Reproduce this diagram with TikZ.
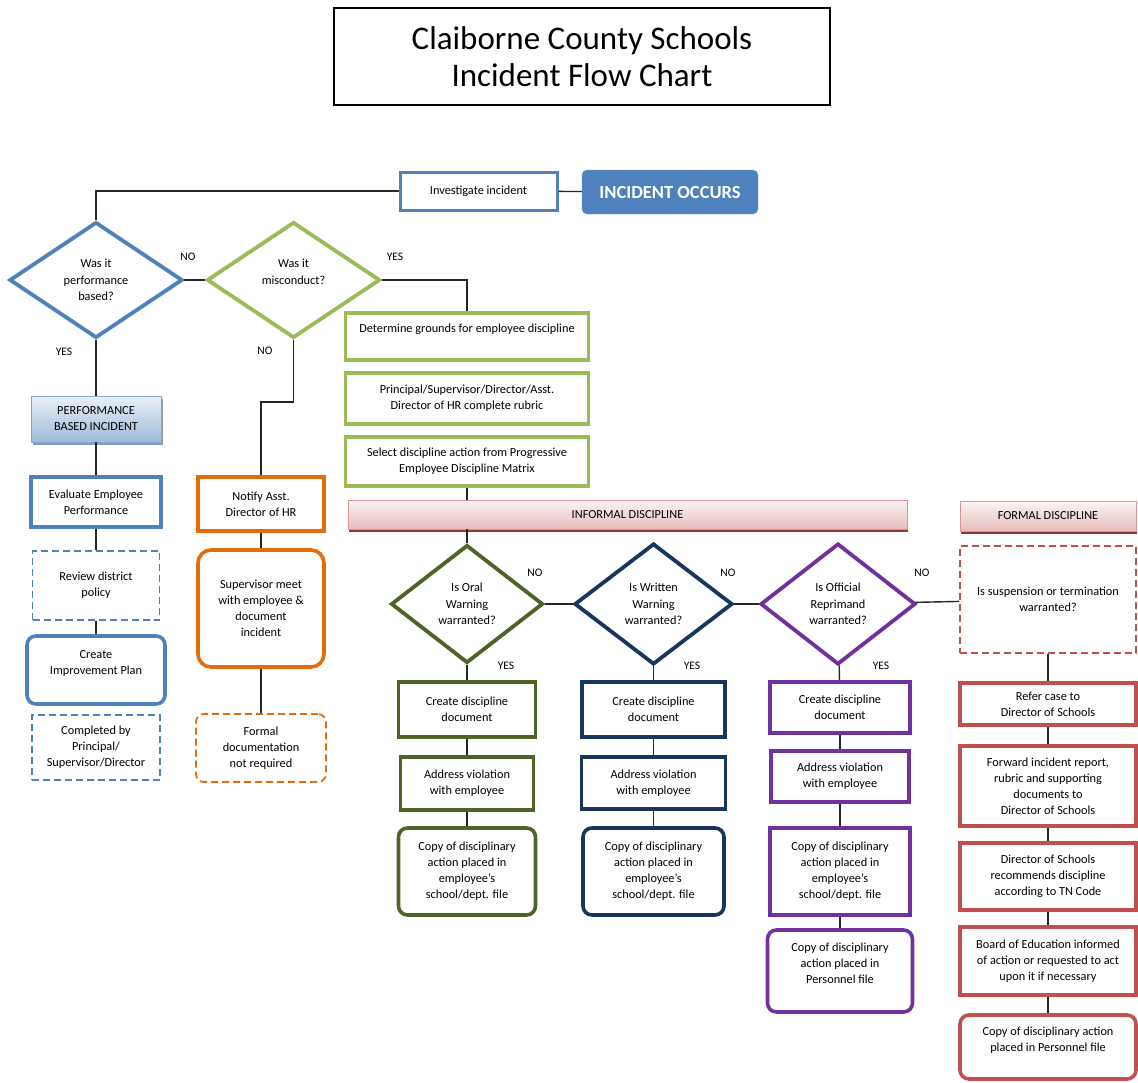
\documentclass[tikz,border=0pt]{standalone}
\usepackage{fontspec}
\setmainfont{Carlito}
\usetikzlibrary{shapes.geometric, shadows}

\definecolor{ccsblue}{HTML}{4F81BD}
\definecolor{ccsgreen}{HTML}{9BBB59}
\definecolor{ccsorange}{HTML}{E46C0A}
\definecolor{ccsolive}{HTML}{4F6228}
\definecolor{ccsnavy}{HTML}{17365D}
\definecolor{ccspurple}{HTML}{7030A0}
\definecolor{ccsred}{HTML}{C0504D}
\definecolor{ccsdarkred}{HTML}{943634}

\tikzset{
    txt/.style={font=\fontsize{12.3}{16}\selectfont, align=center},
    box/.style={txt, draw, rectangle, line width=3.6pt, fill=white, inner sep=2pt},
    rbox/.style={box, rounded corners=9pt},
    dbox/.style={box, line width=1.8pt, dash pattern=on 7pt off 4pt},
    decide/.style={txt, diamond, draw, line width=3.8pt, fill=white, inner sep=0pt,
        font=\fontsize{12.3}{16.5}\selectfont},
    answer/.style={font=\fontsize{11.5}{13}\selectfont},
    bar/.style={txt, draw=ccsred!60, line width=0.8pt, top color=ccsred!6, bottom color=ccsred!38,
        drop shadow={shadow xshift=1pt, shadow yshift=-2.5pt, fill=ccsdarkred, opacity=1}},
    link/.style={draw=black!85, line width=1.4pt}
}

\begin{document}
\begin{tikzpicture}[x=1pt, y=-1pt]

        \useasboundingbox (0,0) rectangle (1138,1082);

        \node[draw, line width=1.2pt, minimum width=496pt, minimum height=97pt,
            align=center, font=\fontsize{33}{37}\selectfont] (title) at (582,56.5)
            {Claiborne County Schools\\Incident Flow Chart};

        \node[box, draw=ccsblue, line width=3pt, minimum width=157pt, minimum height=38pt] (invest) at (478.5,191) {Investigate incident};
        \node[rectangle, rounded corners=5pt, fill=ccsblue, draw=ccsblue!80, text=white,
            font=\bfseries\fontsize{18.5}{20}\selectfont, minimum width=176pt, minimum height=44pt] (occurs) at (670,192) {INCIDENT OCCURS};

        % first questions
        \node[decide, draw=ccsblue, minimum width=173pt, minimum height=116pt] (perfq) at (96,280) {Was it\\performance\\based?};
        \node[decide, draw=ccsgreen, minimum width=173pt, minimum height=116pt] (miscq) at (293.5,280) {Was it\\misconduct?\\\mbox{}};

        \node[answer] (perfno) at (188,257) {NO};
        \node[answer] (miscyes) at (395,257) {YES};
        \node[answer] (perfyes) at (64,352) {YES};
        \node[answer] (miscno) at (265,351) {NO};

        % performance column
        \node[txt, draw=ccsblue!70, line width=0.8pt, top color=ccsblue!12, bottom color=ccsblue!55,
            drop shadow={shadow xshift=2pt, shadow yshift=-2.5pt, fill=ccsnavy!70, opacity=0.7},
            minimum width=130pt, minimum height=46pt] (perfinc) at (96,419) {PERFORMANCE\\BASED INCIDENT};
        \node[box, draw=ccsblue, minimum width=130pt, minimum height=50pt] (evaluate) at (96,502) {Evaluate Employee\\Performance};
        \node[dbox, draw=ccsblue, minimum width=127pt, minimum height=69pt] (review) at (96,585.5) {Review district\\policy};
        \node[rbox, draw=ccsblue, minimum width=138pt, minimum height=68pt] (improve) at (96,670) {Create\\Improvement Plan\\\mbox{}};
        \node[dbox, draw=ccsblue, minimum width=128pt, minimum height=65pt] (completed) at (96,747.5) {Completed by\\Principal/\\Supervisor/Director};

        % misconduct (no) column
        \node[box, draw=ccsorange, minimum width=126pt, minimum height=54pt] (notify) at (261,504) {Notify Asst.\\Director of HR};
        \node[rbox, rounded corners=13pt, draw=ccsorange, minimum width=126pt, minimum height=117pt] (meet) at (261,608.5) {Supervisor meet\\with employee \&\\document\\incident};
        \node[dbox, rounded corners=8pt, draw=ccsorange, minimum width=130pt, minimum height=68pt] (formal) at (261,748) {Formal\\documentation\\not required};

        % misconduct (yes) column
        \node[box, draw=ccsgreen, minimum width=243pt, minimum height=47pt] (grounds) at (467,336.5) {Determine grounds for employee discipline\\\mbox{}};
        \node[box, draw=ccsgreen, minimum width=243pt, minimum height=51pt] (rubric) at (467,398.5) {Principal/Supervisor/Director/Asst.\\Director of HR complete rubric};
        \node[box, draw=ccsgreen, minimum width=243pt, minimum height=49pt] (matrix) at (467,461.5) {Select discipline action from Progressive\\Employee Discipline Matrix};

        \node[bar, minimum width=559pt, minimum height=29pt] (informal) at (627.5,514.5) {INFORMAL DISCIPLINE};
        \node[bar, minimum width=176pt, minimum height=30pt] (formalbar) at (1048,516) {FORMAL DISCIPLINE};

        % warning questions
        \node[decide, draw=ccsolive, minimum width=152pt, minimum height=118pt] (oralq) at (467,604) {Is Oral\\Warning\\warranted?};
        \node[decide, draw=ccsnavy, minimum width=158pt, minimum height=121pt] (writtenq) at (653.5,604) {Is Written\\Warning\\warranted?};
        \node[decide, draw=ccspurple, minimum width=155pt, minimum height=121pt] (officialq) at (838,604) {Is Official\\Reprimand\\warranted?};
        \node[dbox, draw=ccsred, minimum width=176pt, minimum height=107pt] (suspq) at (1048,599.5) {Is suspension or termination\\warranted?};

        \node[answer] (oralno) at (535,573) {NO};
        \node[answer] (writtenno) at (728,573) {NO};
        \node[answer] (officialno) at (922,573) {NO};
        \node[answer] (oralyes) at (506,666) {YES};
        \node[answer] (writtenyes) at (692,666) {YES};
        \node[answer] (officialyes) at (881,666) {YES};

        % oral warning
        \node[box, draw=ccsolive, minimum width=137pt, minimum height=55pt] (createA) at (467,709.5) {Create discipline\\document};
        \node[box, draw=ccsolive, minimum width=133pt, minimum height=53pt] (addressA) at (467,783.5) {Address violation\\with employee};
        \node[rbox, draw=ccsolive, minimum width=137pt, minimum height=87pt] (copyA) at (467,871.5) {Copy of disciplinary\\action placed in\\employee’s\\school/dept. file};

        % written warning
        \node[box, draw=ccsnavy, minimum width=143pt, minimum height=55pt] (createB) at (653.5,709.5) {Create discipline\\document};
        \node[box, draw=ccsnavy, minimum width=144pt, minimum height=52pt] (addressB) at (653.5,783) {Address violation\\with employee};
        \node[rbox, draw=ccsnavy, minimum width=141pt, minimum height=87pt] (copyB) at (653.5,871.5) {Copy of disciplinary\\action placed in\\employee’s\\school/dept. file};

        % official reprimand
        \node[box, draw=ccspurple, minimum width=140pt, minimum height=51pt] (createC) at (840,707.5) {Create discipline\\document};
        \node[box, draw=ccspurple, minimum width=138pt, minimum height=51pt] (addressC) at (840,776.5) {Address violation\\with employee};
        \node[box, draw=ccspurple, minimum width=140pt, minimum height=87pt] (copyC) at (840,871.5) {Copy of disciplinary\\action placed in\\employee’s\\school/dept. file};
        \node[rbox, draw=ccspurple, minimum width=145pt, minimum height=82pt] (personnelC) at (840,971) {Copy of disciplinary\\action placed in\\Personnel file\\\mbox{}};

        % formal discipline
        \node[box, draw=ccsred, minimum width=176pt, minimum height=42pt] (refer) at (1048,704) {Refer case to\\Director of Schools};
        \node[box, draw=ccsred, minimum width=176pt, minimum height=80pt] (forward) at (1048,786) {Forward incident report,\\rubric and supporting\\documents to\\Director of Schools};
        \node[box, draw=ccsred, minimum width=176pt, minimum height=67pt] (recommend) at (1048,876.5) {Director of Schools\\recommends discipline\\according to TN Code};
        \node[box, draw=ccsred, minimum width=176pt, minimum height=68pt] (board) at (1048,961) {Board of Education informed\\of action or requested to act\\upon it if necessary};
        \node[rbox, draw=ccsred, minimum width=176pt, minimum height=64pt] (personnelR) at (1048,1047) {Copy of disciplinary action\\placed in Personnel file\\\mbox{}};

        % connectors
        \draw[link] (invest) -- (occurs);
        \draw[link] (invest.west) -| (perfq.north);
        \draw[link] (perfq) -- (miscq);
        \draw[link] (miscq.east) -| (grounds.north);
        \draw[link] (perfq.south) -- (perfinc.north);
        \draw[link] (perfinc) -- (evaluate);
        \draw[link] (evaluate) -- (review);
        \draw[link] (review) -- (improve);
        \draw[link] (miscq.south) -- ++(0,62) -| (notify.north);
        \draw[link] (notify) -- (meet);
        \draw[link] (meet) -- (formal);

        \draw[link] (matrix.south) -- (informal.north -| matrix.south);
        \draw[link] (informal.south -| oralq.north) -- (oralq.north);
        \draw[link] (oralq) -- (writtenq);
        \draw[link] (writtenq) -- (officialq);
        \draw[link] (officialq) -- (suspq);

        \draw[link] (oralq) -- (createA);
        \draw[link] (createA) -- (addressA);
        \draw[link] (addressA) -- (copyA);
        \draw[link] (writtenq) -- (createB);
        \draw[link] (createB) -- (addressB);
        \draw[link] (addressB) -- (copyB);
        \draw[link] (officialq) -- (createC);
        \draw[link] (createC) -- (addressC);
        \draw[link] (addressC) -- (copyC);
        \draw[link] (copyC) -- (personnelC);

        \draw[link] (suspq) -- (refer);
        \draw[link] (refer) -- (forward);
        \draw[link] (forward) -- (recommend);
        \draw[link] (recommend) -- (board);
        \draw[link] (board) -- (personnelR);

    \end{tikzpicture}
\end{document}
